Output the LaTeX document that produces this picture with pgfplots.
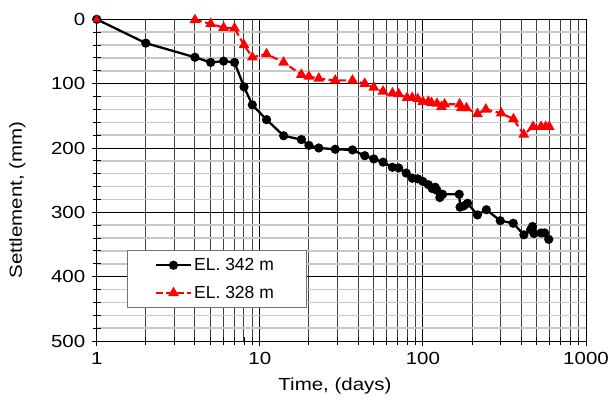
\documentclass[border=0pt]{standalone}
\usepackage{fontspec}
\setmainfont{Liberation Sans}[FakeStretch=1.17]
\newfontfamily\legfont{Liberation Sans}
\usepackage{pgfplots}
\pgfplotsset{compat=1.18}
\pgfplotstableread{
x y
1 0
2 37
4 59
5 67
6 65
7 67
8 105
9 133
11 156
14 181
18 187
20 196
23 200
29 202
37 203
44 212
50 217
57 222
65 230
71 231
79 239
86 247
93 248
100 252
108 257
114 263
119 261
122 266
127 277
132 272
167 272
169 292
178 290
188 286
216 304
245 296
298 313
358 317
416 335
458 327
470 322
480 333
531 332
557 332
591 342
}\blackdata
\pgfplotstableread{
x y
4 1
5 7
6 13
7 14
8 40
9 59
11 54
14 67
18 86
20 89
23 92
29 95
37 95
44 100
50 106
57 112
65 115
71 116
80 122
86 122
93 124
100 128
108 128
113 130
122 131
130 136
136 132
168 132
172 138
185 138
216 147
243 140
302 146
359 155
415 179
474 167
530 167
566 167
595 167
}\reddata
\definecolor{exred}{RGB}{255,0,0}
\begin{document}
\begin{tikzpicture}
\useasboundingbox (-96.7bp,-66bp) rectangle (514.3bp,341bp);
\begin{axis}[
  scale only axis,
  width=489.3bp, height=321.7bp,
  xmode=log, xmin=1, xmax=1000,
  ymin=0, ymax=500, y dir=reverse,
  xtick={1,10,100,1000}, xticklabels={1,10,100,1000},
  ytick={0,100,200,300,400,500}, yticklabels={0,100,200,300,400,500},
  minor ytick={20,40,60,80,120,140,160,180,220,240,260,280,320,340,360,380,420,440,460,480},
  xtick pos=left, ytick pos=left,
  tick align=center,
  major tick length=10bp, minor tick length=8bp,
  every tick/.style={black, line width=0.9bp},
  xmajorgrids, xminorgrids, ymajorgrids, yminorgrids,
  major grid style={black, line width=0.9bp},
  minor x grid style={black!75, line width=1bp},
  minor y grid style={black!22, line width=1.5bp},
  axis line style={black, line width=0.9bp},
  tick label style={font=\fontsize{17.5bp}{21bp}\selectfont},
  yticklabel style={xshift=-3bp},
  xticklabel style={yshift=-3bp},
  label style={font=\fontsize{17.5bp}{21bp}\selectfont},
  xlabel={Time, (days)},
  ylabel={Settlement, (mm)},
  xlabel style={at={(axis description cs:0.487,-0.14)}, anchor=center},
  ylabel style={at={(axis description cs:-0.162,0.438)}, anchor=center, rotate=0},
  clip=false,
  legend cell align=left,
  legend style={at={(axis description cs:0.061,0.283)}, anchor=north west,
    draw=black!55, line width=0.9bp, fill=white,
    font=\legfont\fontsize{17.5bp}{21bp}\selectfont,
    inner xsep=2bp, inner ysep=6bp, row sep=10bp},
  legend image code/.code={\path[draw=none,fill=none] (-27bp,0bp) -- (35bp,0bp);\draw[mark repeat=2,mark phase=2,#1] plot coordinates {(0bp,0bp) (17.5bp,0bp) (35bp,0bp)};},
]
\addplot[black, line width=2.3bp, mark=*, mark size=3.4bp, mark options={solid}] table[x=x,y=y] {\blackdata};
\addlegendentry{\makebox[108bp][l]{EL. 342 m}}
\addplot[exred, line width=2.1bp, dash pattern=on 7bp off 3.5bp, mark=triangle*, mark size=4.2bp, mark options={solid}] table[x=x,y=y] {\reddata};
\addlegendentry{\makebox[108bp][l]{EL. 328 m}}
\addplot[exred, only marks, mark=triangle*, mark size=4.2bp, forget plot] coordinates {(1,0)};
\end{axis}
\end{tikzpicture}
\end{document}
